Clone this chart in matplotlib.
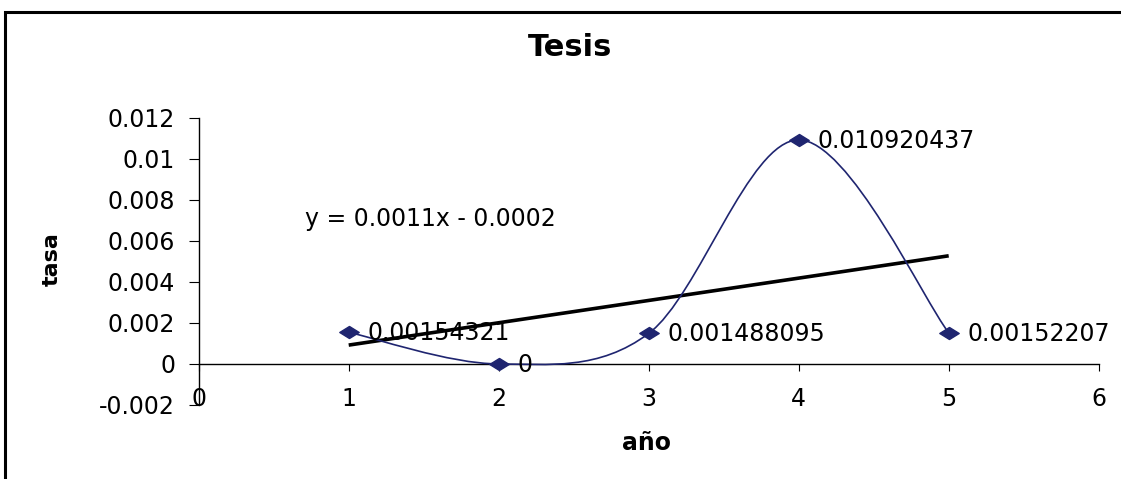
import numpy as np
import matplotlib
matplotlib.use("Agg")
import matplotlib.pyplot as plt
from matplotlib.path import Path
from matplotlib.patches import PathPatch, Rectangle

plt.rcParams['font.family'] = ['DejaVu Sans']

# ---- data ----
years = [1, 2, 3, 4, 5]
tasa = [0.00154321, 0.0, 0.001488095, 0.010920437, 0.001522070]
point_labels = ["0.00154321", "0", "0.001488095", "0.010920437", "0.00152207"]
x_ticks = [0, 1, 2, 3, 4, 5, 6]
y_ticks = [-0.002, 0, 0.002, 0.004, 0.006, 0.008, 0.01, 0.012]
y_tick_labels = ["-0.002", "0", "0.002", "0.004", "0.006", "0.008", "0.01", "0.012"]
title = "Tesis"
x_label = "año"
y_label = "tasa"

NAVY = "#1f2570"
W, H = 1121, 479
FS = 17

fig = plt.figure(figsize=(W / 100, H / 100), dpi=100)
fig.patch.set_facecolor("white")

# outer chart-area border (extends beyond the right and bottom edges)
fig.patches.append(Rectangle((5 / W, -0.1), 1.2, 1 - 12 / H + 0.1,
                             transform=fig.transFigure, fill=False,
                             edgecolor="black", linewidth=2.2))

ax = fig.add_axes([198.7 / W, 1 - 405 / H, 900 / W, (405 - 117.7) / H])
ax.set_xlim(0, 6)
ax.set_ylim(-0.002, 0.012)
ax.set_facecolor("none")
for s in ("top", "right"):
    ax.spines[s].set_visible(False)
ax.spines["bottom"].set_position(("data", 0))
ax.spines["left"].set_linewidth(1.0)
ax.spines["bottom"].set_linewidth(1.0)

ax.set_xticks(x_ticks)
ax.set_xticklabels([str(v) for v in x_ticks])
ax.set_yticks(y_ticks)
ax.set_yticklabels(y_tick_labels)
ax.tick_params(axis="x", direction="out", length=5, width=0.8, pad=11.5, labelsize=FS)
ax.tick_params(axis="y", direction="out", length=7, width=0.8, pad=10, labelsize=FS)

# Excel-style smoothed line (cubic Bezier through points)
xs = np.array(years, dtype=float)
ys = np.array(tasa, dtype=float)
n = len(xs)
verts = [(xs[0], ys[0])]
codes = [Path.MOVETO]
for i in range(n - 1):
    p_prev = np.array([xs[max(i - 1, 0)], ys[max(i - 1, 0)]])
    p0 = np.array([xs[i], ys[i]])
    p1 = np.array([xs[i + 1], ys[i + 1]])
    p_next = np.array([xs[min(i + 2, n - 1)], ys[min(i + 2, n - 1)]])
    c1 = p0 + (p1 - p_prev) / 6.0
    c2 = p1 - (p_next - p0) / 6.0
    verts += [tuple(c1), tuple(c2), tuple(p1)]
    codes += [Path.CURVE4] * 3
ax.add_patch(PathPatch(Path(verts, codes), fill=False, edgecolor=NAVY,
                       linewidth=1.2, transform=ax.transData, zorder=3))

# wide diamond marker
diamond = Path([(-1, 0), (0, 0.62), (1, 0), (0, -0.62), (-1, 0)],
               [Path.MOVETO, Path.LINETO, Path.LINETO, Path.LINETO, Path.CLOSEPOLY])
ax.plot(years, tasa, linestyle="none", marker=diamond, markersize=14,
        color=NAVY, zorder=4, clip_on=False)

# linear trendline
m, b = np.polyfit(xs, ys, 1)
tx = np.array([xs[0], xs[-1]])
ax.plot(tx, m * tx + b, color="black", linewidth=2.6, zorder=2,
        solid_capstyle="butt")

# data labels
for x, y, lab in zip(years, tasa, point_labels):
    ax.annotate(lab, (x, y), xytext=(19, -1), textcoords="offset pixels",
                ha="left", va="center", fontsize=FS, color="black",
                annotation_clip=False, zorder=5)

# texts
fig.text(570 / W, 1 - 47 / H, title, ha="center", va="center",
         fontsize=22, fontweight="bold")
fig.text(647 / W, 1 - 443 / H, x_label, ha="center", va="center",
         fontsize=FS, fontweight="bold")
fig.text(52 / W, 1 - 259 / H, y_label, ha="center", va="center",
         fontsize=16, fontweight="bold", rotation=90)
sign = "-" if b < 0 else "+"
fig.text(305 / W, 1 - 219 / H, f"y = {m:.4f}x {sign} {abs(b):.4f}",
         ha="left", va="center", fontsize=FS)

fig.savefig("out.png", dpi=100, facecolor="white")
